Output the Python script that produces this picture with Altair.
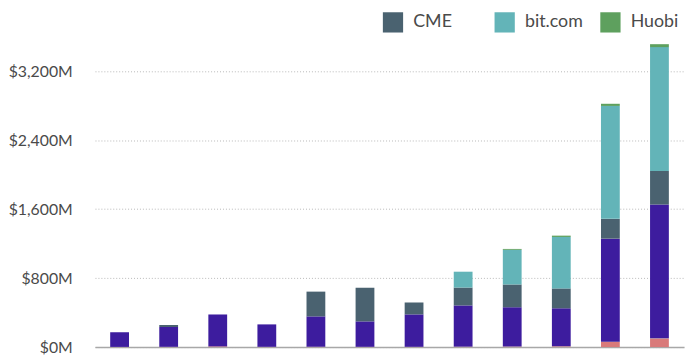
import altair as alt
import pandas as pd

# Categories (x-axis labels are cropped out of the reference view)
periods = ["Jan", "Feb", "Mar", "Apr", "May", "Jun",
           "Jul", "Aug", "Sep", "Oct", "Nov", "Dec"]
exchanges = ["LedgerX", "Bakkt", "OKEx", "CME", "bit.com", "Huobi"]
colors = ["#d97a7a", "#a09f9a", "#3d1c9e", "#4a6270", "#63b4b8", "#5ea05e"]

# Values in $M
ledgerx = [2, 3, 8, 3, 4, 3, 3, 4, 5, 8, 60, 100]
bakkt = [0, 0, 0, 0, 0, 0, 0, 1, 2, 2, 3, 3]
okex = [170, 230, 370, 260, 352, 295, 376, 478, 455, 440, 1194, 1550]
cme = [0, 23, 0, 0, 287, 390, 138, 207, 264, 230, 230, 390]
bitcom = [0, 0, 0, 0, 0, 0, 0, 184, 402, 597, 1309, 1435]
huobi = [0, 0, 0, 0, 0, 0, 0, 0, 10, 15, 25, 34]

y_ticks = [0, 800, 1600, 2400, 3200]

series = [ledgerx, bakkt, okex, cme, bitcom, huobi]
rows = []
for i, p in enumerate(periods):
    for j, (name, vals) in enumerate(zip(exchanges, series)):
        rows.append({"period": p, "exchange": name, "value": vals[i], "order": j})
df = pd.DataFrame(rows)

FONT = "Lato"
TXT = "#4a4a4a"

chart = alt.Chart(df).mark_bar().encode(
    x=alt.X("period:N", sort=periods,
            scale=alt.Scale(range=[0, 596], paddingInner=0.617, paddingOuter=0.31),
            axis=alt.Axis(labels=False, ticks=False, title=None, grid=False,
                          domainColor="#a8a8a8", domainWidth=1.5)),
    y=alt.Y("value:Q", stack="zero",
            scale=alt.Scale(domain=[0, 3908], nice=False),
            axis=alt.Axis(values=y_ticks, title=None, domain=False, ticks=False,
                          labelExpr="'$' + format(datum.value, ',') + 'M'",
                          labelFont=FONT, labelFontSize=16, labelColor=TXT,
                          labelPadding=23, gridColor="#b8b8b8", gridDash=[1, 2],
                          gridWidth=1)),
    color=alt.Color("exchange:N", sort=exchanges,
                    scale=alt.Scale(domain=exchanges, range=colors),
                    legend=alt.Legend(title=None, orient="none", legendX=291, legendY=-25,
                                      direction="horizontal",
                                      columns=3, columnPadding=17, rowPadding=6,
                                      symbolType="square", symbolSize=420,
                                      symbolStrokeWidth=0, labelOffset=10,
                                      labelFont=FONT, labelFontSize=18, labelColor=TXT,
                                      padding=0)),
    order=alt.Order("order:Q", sort="ascending"),
).properties(
    width=602, height=341,
    autosize=alt.AutoSizeParams(type="none"),
    padding={"left": 88, "top": 0, "right": 0, "bottom": 10},
).configure_view(stroke=None)

chart.save("out.html", embed_options={"renderer": "svg", "actions": False})
